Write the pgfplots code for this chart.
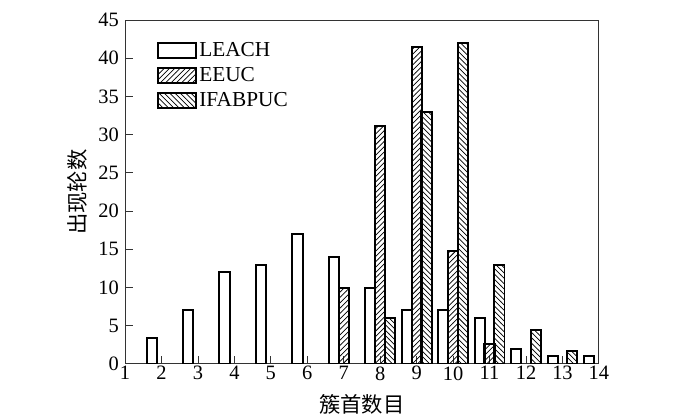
\documentclass[border=0pt]{standalone}
\usepackage{fontspec}
\setmainfont{Liberation Serif}
\newfontfamily\cjk{Noto Sans CJK SC}
\usepackage{pgfplots}
\pgfplotsset{compat=1.18}
\usetikzlibrary{patterns}

\pgfplotsset{
  mybar/.style={
    ybar, bar width=0.28, draw=black, line width=1.1pt,
    legend image code/.code={
      \draw[##1, line width=1.1pt] (0pt,-4.3pt) rectangle (21.4pt,4.1pt);
    },
  },
}

\begin{document}
\begin{tikzpicture}
\useasboundingbox (-70.4pt,-31pt) rectangle (323.7pt,204.9pt);
\begin{axis}[
    scale only axis,
    width=266.8pt, height=193.6pt,
    at={(0pt,0pt)}, anchor=south west,
    xmin=1, xmax=14, ymin=0, ymax=45,
    xtick={1,...,14}, ytick={0,5,...,45},
    tick pos=left, tick align=inside,
    major tick length=4.5pt,
    tick style={black!80, line width=0.5pt},
    axis line style={black!80, line width=0.6pt},
    /pgf/number format/assume math mode=true,
    ticklabel style={font=\fontsize{11.5}{13}\selectfont},
    xticklabel style={inner sep=0pt, yshift=-1.2pt},
    xlabel={\cjk 簇首数目},
    ylabel={\cjk 出现轮数},
    label style={font=\fontsize{12}{14}\selectfont},
    xlabel style={at={(axis description cs:0.5,0)}, anchor=center, yshift=-23pt},
    ylabel style={at={(axis description cs:0,0.5)}, anchor=center, yshift=27pt},
    legend style={
      at={(axis description cs:0.0675,0.942)}, anchor=north west,
      draw=none, fill=none, inner sep=0pt,
      font=\fontsize{12}{14}\selectfont,
      nodes={inner sep=1.1pt},
      row sep=2.4pt,
    },
    legend cell align=left,
]
\addplot[mybar, fill=white, bar shift=-0.27] coordinates {
  (2,3.4) (3,7) (4,12) (5,13) (6,17) (7,14) (8,10) (9,7)
  (10,7) (11,6) (12,2) (13,1.1) (14,1.1)
};
\addlegendentry{LEACH}
\addplot[mybar, pattern=north east lines, bar shift=0] coordinates {
  (7,10) (8,31.2) (9,41.5) (10,14.8) (11,2.6)
};
\addlegendentry{EEUC}
\addplot[mybar, pattern=north west lines, bar shift=0.27] coordinates {
  (8,6) (9,33) (10,42) (11,13) (12,4.4) (13,1.7)
};
\addlegendentry{IFABPUC}
\end{axis}
\end{tikzpicture}
\end{document}
